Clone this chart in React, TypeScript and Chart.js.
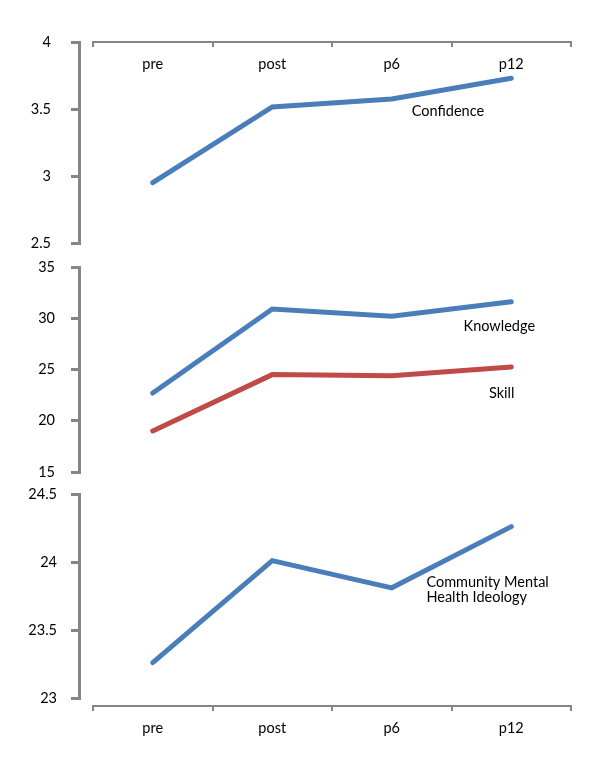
import React, { useEffect, useRef } from "react";
import { Chart, registerables } from "chart.js";

Chart.register(...registerables);

const categories = ["pre", "post", "p6", "p12"];
const confidence = [2.95, 3.515, 3.575, 3.73];
const knowledge = [22.7, 30.9, 30.2, 31.6];
const skill = [19.0, 24.5, 24.4, 25.25];
const ideology = [23.26, 24.01, 23.81, 24.26];

const confidenceTicks = [2.5, 3, 3.5, 4];
const knowledgeSkillTicks = [15, 20, 25, 30, 35];
const ideologyTicks = [23, 23.5, 24, 24.5];

const BLUE = "#4A7EBB";
const RED = "#BE4B48";
const AXIS = "#868686";
const FONT = { family: "Lato", size: 14.5 };

Chart.defaults.font.family = "Lato";
Chart.defaults.font.size = 14.5;
Chart.defaults.color = "#000";

type Note = { lines: string[]; x: number; y: number; align: CanvasTextAlign };

const notesPlugin = (notes: Note[]) => ({
  id: "notes",
  afterDatasetsDraw(chart: any) {
    const { ctx, scales } = chart;
    ctx.save();
    ctx.font = "14.5px Lato";
    ctx.fillStyle = "#000";
    ctx.textBaseline = "middle";
    notes.forEach((n) => {
      ctx.textAlign = n.align;
      const px = scales.x.getPixelForValue(n.x);
      const py = scales.y.getPixelForValue(n.y);
      n.lines.forEach((t, i) => ctx.fillText(t, px, py + i * 15));
    });
    ctx.restore();
  },
});

// let the zero-width label axis draw its labels to the left of the plot
const labelAreaPlugin = {
  id: "labelArea",
  afterLayout(chart: any) {
    const s = chart.scales.yl;
    if (s) s.left = 0;
  },
};

function setTicks(ticks: number[]) {
  return (s: any) => {
    s.ticks = ticks.map((v) => ({ value: v }));
  };
}

function noPad(s: any) {
  s.paddingTop = 0;
  s.paddingBottom = 0;
}

// axis line (outside the plot area, like the original)
function yScale(ticks: number[], axisX: number) {
  return {
    min: ticks[0],
    max: ticks[ticks.length - 1],
    position: { x: axisX },
    afterBuildTicks: setTicks(ticks),
    afterFit: noPad,
    ticks: { display: false },
    grid: { drawOnChartArea: false, tickLength: 7, color: AXIS, lineWidth: 3 },
    border: { color: AXIS, width: 3 },
  };
}

// tick labels of the same axis
function yLabelScale(ticks: number[], pad: number) {
  return {
    min: ticks[0],
    max: ticks[ticks.length - 1],
    position: "left",
    afterBuildTicks: setTicks(ticks),
    afterFit: (s: any) => {
      s.width = 0;
      noPad(s);
    },
    ticks: { padding: pad, color: "#000", font: FONT, callback: (v: any) => String(v) },
    grid: { display: false, drawTicks: false },
    border: { display: false },
  };
}

function xScale(show: boolean, yAt: number | null) {
  return {
    type: "category",
    labels: categories,
    offset: true,
    display: show,
    position: yAt === null ? "bottom" : { y: yAt },
    grid: { drawOnChartArea: false, tickLength: 4, color: AXIS, lineWidth: 2, offset: true },
    border: { color: AXIS, width: 2 },
    ticks: { padding: 10, color: "#000", font: FONT },
  };
}

function line(data: number[], color: string) {
  return {
    data,
    borderColor: color,
    backgroundColor: color,
    borderWidth: 5,
    pointRadius: 0,
    tension: 0,
    fill: false,
    borderCapStyle: "round" as const,
  };
}

const AXIS_X = -0.617;

function Panel(props: { top: number; height: number; config: any }) {
  const ref = useRef<HTMLCanvasElement>(null);
  useEffect(() => {
    const chart = new Chart(ref.current as HTMLCanvasElement, props.config);
    return () => chart.destroy();
  }, []);
  return (
    <canvas
      ref={ref}
      width={600}
      height={props.height}
      style={{ position: "absolute", left: 0, top: props.top, width: 600, height: props.height }}
    />
  );
}

function baseOptions(padding: any, x: any, ticks: number[], labelPad: number) {
  return {
    animation: false,
    responsive: false,
    layout: { padding },
    plugins: { legend: { display: false }, tooltip: { enabled: false } },
    scales: { x, y: yScale(ticks, AXIS_X), yl: yLabelScale(ticks, labelPad) },
  };
}

export default function App() {
  const c1 = {
    type: "line",
    data: { labels: categories, datasets: [line(confidence, BLUE)] },
    options: baseOptions(
      { top: 42, bottom: 13, left: 93, right: 29 },
      xScale(true, confidenceTicks[confidenceTicks.length - 1]),
      confidenceTicks,
      42
    ),
    plugins: [labelAreaPlugin, notesPlugin([{ lines: ["Confidence"], x: 2.47, y: 3.485, align: "center" }])],
  };
  const c2 = {
    type: "line",
    data: { labels: categories, datasets: [line(knowledge, BLUE), line(skill, RED)] },
    options: baseOptions(
      { top: 11, bottom: 14, left: 93, right: 29 },
      xScale(false, null),
      knowledgeSkillTicks,
      38
    ),
    plugins: [
      labelAreaPlugin,
      notesPlugin([
        { lines: ["Knowledge"], x: 2.9, y: 29.24, align: "center" },
        { lines: ["Skill"], x: 2.92, y: 22.7, align: "center" },
      ]),
    ],
  };
  const c3 = {
    type: "line",
    data: { labels: categories, datasets: [line(ideology, BLUE)] },
    options: baseOptions(
      { top: 8, bottom: 68, left: 93, right: 29 },
      xScale(true, 22.941),
      ideologyTicks,
      36
    ),
    plugins: [
      labelAreaPlugin,
      notesPlugin([
        { lines: ["Community Mental", "Health Ideology"], x: 2.29, y: 23.85, align: "left" },
      ]),
    ],
  };
  return (
    <div style={{ position: "absolute", left: 0, top: 0, width: 600, height: 766, background: "#fff" }}>
      <Panel top={0} height={256} config={c1} />
      <Panel top={256} height={230} config={c2} />
      <Panel top={486} height={280} config={c3} />
    </div>
  );
}
